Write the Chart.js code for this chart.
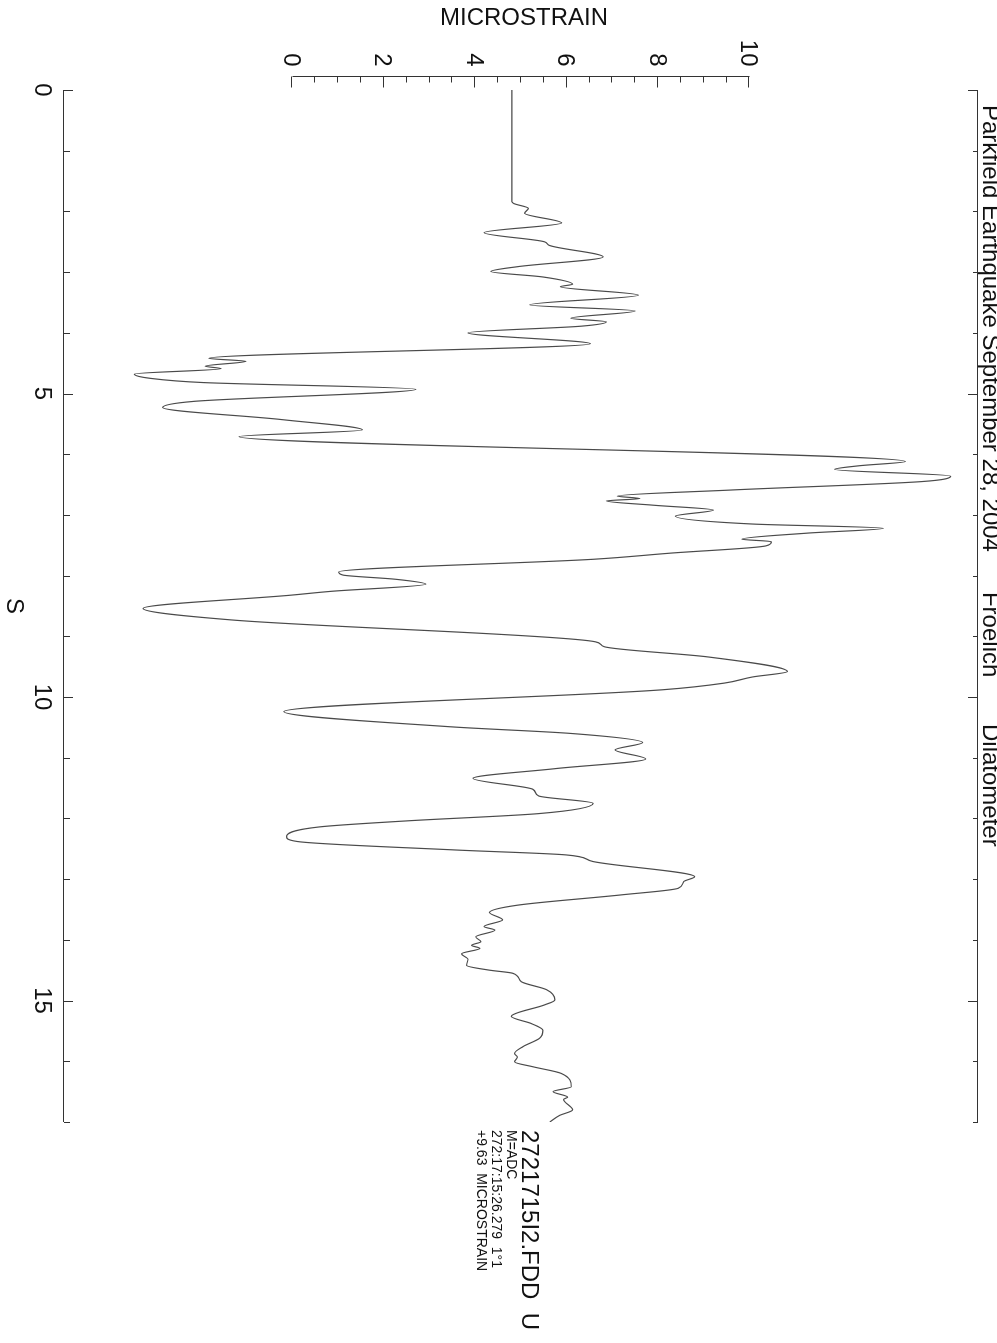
<!DOCTYPE html>
<html>
<head>
<meta charset="utf-8">
<title>Parkfield Earthquake — Froelich Dilatometer</title>
<script src="https://cdn.jsdelivr.net/npm/chart.js@4.4.1/dist/chart.umd.min.js"></script>
<style>
  html, body { margin: 0; padding: 0; background: #ffffff; overflow: hidden; }
  body { width: 997px; height: 1343px; position: relative; }
  /* the plot is drawn landscape, then turned a quarter turn clockwise */
  #sheet {
    position: absolute; left: 0; top: 0;
    width: 1343px; height: 997px;
    transform-origin: 0 0;
    transform: translateX(997px) rotate(90deg);
  }
</style>
</head>
<body>
<div id="sheet"><canvas id="strainChart" width="1343" height="997"></canvas></div>
<script>
// trace: seconds / microstrain
var TIME_S = [
  0.00, 1.84, 1.87, 1.95, 2.03, 2.19, 2.35, 2.50, 2.56, 2.75,
  2.91, 2.99, 3.08, 3.20, 3.24, 3.38, 3.54, 3.64, 3.76, 3.82,
  3.89, 4.00, 4.18, 4.42, 4.47, 4.55, 4.59, 4.68, 4.75, 4.82,
  4.93, 5.13, 5.23, 5.43, 5.60, 5.71, 6.12, 6.19, 6.25, 6.36,
  6.45, 6.59, 6.69, 6.73, 6.77, 6.84, 6.92, 7.02, 7.15, 7.22,
  7.30, 7.40, 7.44, 7.51, 7.63, 7.73, 7.94, 7.99, 8.06, 8.14,
  8.26, 8.32, 8.54, 8.73, 9.09, 9.17, 9.34, 9.58, 9.67, 9.77,
  9.88, 10.24, 10.49, 10.60, 10.75, 10.87, 11.02, 11.18, 11.34, 11.52,
  11.63, 11.75, 11.92, 12.04, 12.14, 12.30, 12.38, 12.52, 12.60, 12.71,
  12.96, 13.04, 13.15, 13.26, 13.43, 13.55, 13.67, 13.78, 13.84, 13.95,
  14.03, 14.09, 14.14, 14.23, 14.32, 14.42, 14.50, 14.55, 14.69, 14.82,
  14.99, 15.07, 15.26, 15.38, 15.49, 15.62, 15.76, 15.87, 15.93, 16.01,
  16.09, 16.20, 16.42, 16.50, 16.59, 16.63, 16.80, 16.89, 17.00
];
var STRAIN = [
  4.80, 4.80, 4.84, 5.16, 5.08, 5.89, 4.19, 5.51, 5.62, 6.80,
  4.93, 4.34, 5.48, 6.13, 5.86, 7.57, 5.19, 7.50, 6.09, 6.87,
  6.33, 3.84, 6.52, -1.83, -1.02, -1.91, -1.56, -3.46, -3.11, -1.94,
  2.70, -2.17, -2.84, -0.23, 1.53, -1.17, 13.41, 12.40, 11.86, 14.40,
  13.78, 9.59, 7.11, 7.60, 6.87, 7.90, 9.21, 8.38, 10.07, 12.93,
  11.26, 9.83, 10.48, 10.36, 8.26, 6.59, 1.01, 1.10, 2.26, 2.92,
  0.82, -0.01, -3.27, -1.33, 6.63, 6.82, 9.10, 10.83, 10.06, 9.45,
  8.10, -0.19, 3.46, 6.10, 7.66, 7.06, 7.73, 5.74, 3.95, 5.26,
  5.39, 6.58, 5.39, 2.50, 0.58, -0.13, 0.11, 3.59, 5.98, 6.58,
  8.80, 8.56, 8.44, 7.18, 4.91, 4.31, 4.60, 4.19, 4.43, 4.01,
  4.12, 3.92, 4.10, 3.70, 3.84, 3.81, 4.32, 4.82, 5.01, 5.56,
  5.74, 5.52, 4.79, 5.23, 5.48, 5.41, 5.04, 4.86, 4.92, 4.86,
  5.26, 5.88, 6.10, 5.70, 6.02, 5.93, 6.13, 5.85, 5.63
];
var TIME_TICKS = [0, 5, 10, 15];
var STRAIN_TICKS = [0, 2, 4, 6, 8, 10];
var TIME_RANGE = [0, 17];
var STRAIN_RANGE = [-5, 15];
var TITLE_TEXT = 'Parkfield Earthquake September 28, 2004\u00a0\u00a0\u00a0\u00a0\u00a0\u00a0Froelich\u00a0\u00a0\u00a0\u00a0\u00a0\u00a0\u00a0Dilatometer';
var X_TITLE = 'S';
var Y_TITLE = 'MICROSTRAIN';
var STATION_LABEL = '2721715I2.FDD\u00a0\u00a0U';
var STATION_NOTES = ['M=ADC', '272:17:15:26.279\u00a0\u00a01\u00b01', '+9.63\u00a0\u00a0MICROSTRAIN'];

(function () {
  'use strict';

  var INK = '#111111';
  var FRAME = '#333333';
  var TRACE = '#4a4a4a';
  var FONT = "'Liberation Sans', Arial, sans-serif";

  var points = TIME_S.map(function (t, i) { return { x: t, y: STRAIN[i] }; });

  // IDL-style frame: inward ticks, y axis only drawn over its labelled span
  var frame = {
    id: 'seismoFrame',
    afterDraw: function (chart) {
      var ctx = chart.ctx;
      var a = chart.chartArea;
      var xs = chart.scales.x;
      var ys = chart.scales.y;
      var t, v, px, py, major;

      ctx.save();
      ctx.lineWidth = 1;
      ctx.strokeStyle = FRAME;
      ctx.beginPath();
      ctx.moveTo(a.left, a.bottom + 0.5); ctx.lineTo(a.right, a.bottom + 0.5);
      ctx.moveTo(a.left, a.top + 0.5); ctx.lineTo(a.right, a.top + 0.5);
      for (t = TIME_RANGE[0]; t <= TIME_RANGE[1]; t += 1) {
        px = Math.round(xs.getPixelForValue(t)) + 0.5;
        major = TIME_TICKS.indexOf(t) >= 0;
        ctx.moveTo(px, a.bottom); ctx.lineTo(px, a.bottom - (major ? 9 : 6));
        ctx.moveTo(px, a.top); ctx.lineTo(px, a.top + (major ? 10 : 5));
      }
      var axisX = a.left - 13.5;
      var y0 = ys.getPixelForValue(STRAIN_TICKS[0]);
      var y1 = ys.getPixelForValue(STRAIN_TICKS[STRAIN_TICKS.length - 1]);
      ctx.moveTo(axisX, y0); ctx.lineTo(axisX, y1);
      for (v = STRAIN_TICKS[0]; v <= STRAIN_TICKS[STRAIN_TICKS.length - 1]; v += 0.5) {
        py = Math.round(ys.getPixelForValue(v)) + 0.5;
        major = STRAIN_TICKS.indexOf(v) >= 0;
        ctx.moveTo(axisX, py); ctx.lineTo(axisX + (major ? 11 : 6), py);
      }
      ctx.stroke();

      ctx.fillStyle = INK;
      ctx.font = '24px ' + FONT;
      ctx.textBaseline = 'alphabetic';
      ctx.textAlign = 'center';
      TIME_TICKS.forEach(function (tick) {
        ctx.fillText(String(tick), xs.getPixelForValue(tick), a.bottom + 29);
      });
      ctx.fillText(X_TITLE, (a.left + a.right) / 2, a.bottom + 57);

      ctx.textAlign = 'right';
      STRAIN_TICKS.forEach(function (tick) {
        ctx.fillText(String(tick), axisX - 10, ys.getPixelForValue(tick) + 8.5);
      });

      ctx.save();
      ctx.translate(25, (y0 + y1) / 2 - 3);
      ctx.rotate(-Math.PI / 2);
      ctx.textAlign = 'center';
      ctx.fillText(Y_TITLE, 0, 0);
      ctx.restore();

      ctx.textAlign = 'left';
      ctx.fillText(TITLE_TEXT, a.left + 15, a.top - 5);

      // station block hangs off the last sample of the trace
      var yEnd = ys.getPixelForValue(STRAIN[STRAIN.length - 1]);
      var xEnd = a.right + 8;
      ctx.fillText(STATION_LABEL, xEnd, yEnd + 28);
      ctx.font = '14px ' + FONT;
      STATION_NOTES.forEach(function (line, i) {
        ctx.fillText(line, xEnd, yEnd + 43 + i * 15);
      });
      ctx.restore();
    }
  };

  new Chart(document.getElementById('strainChart'), {
    type: 'line',
    data: {
      datasets: [{
        data: points,
        borderColor: TRACE,
        borderWidth: 1.2,
        pointRadius: 0,
        cubicInterpolationMode: 'monotone',
        fill: false
      }]
    },
    options: {
      responsive: false,
      devicePixelRatio: 1,
      animation: false,
      layout: { padding: { left: 90, right: 221, top: 19, bottom: 64 } },
      plugins: { legend: { display: false }, tooltip: { enabled: false } },
      scales: {
        x: { type: 'linear', min: TIME_RANGE[0], max: TIME_RANGE[1], display: false },
        y: { type: 'linear', min: STRAIN_RANGE[0], max: STRAIN_RANGE[1], display: false }
      }
    },
    plugins: [frame]
  });
})();
</script>
</body>
</html>
